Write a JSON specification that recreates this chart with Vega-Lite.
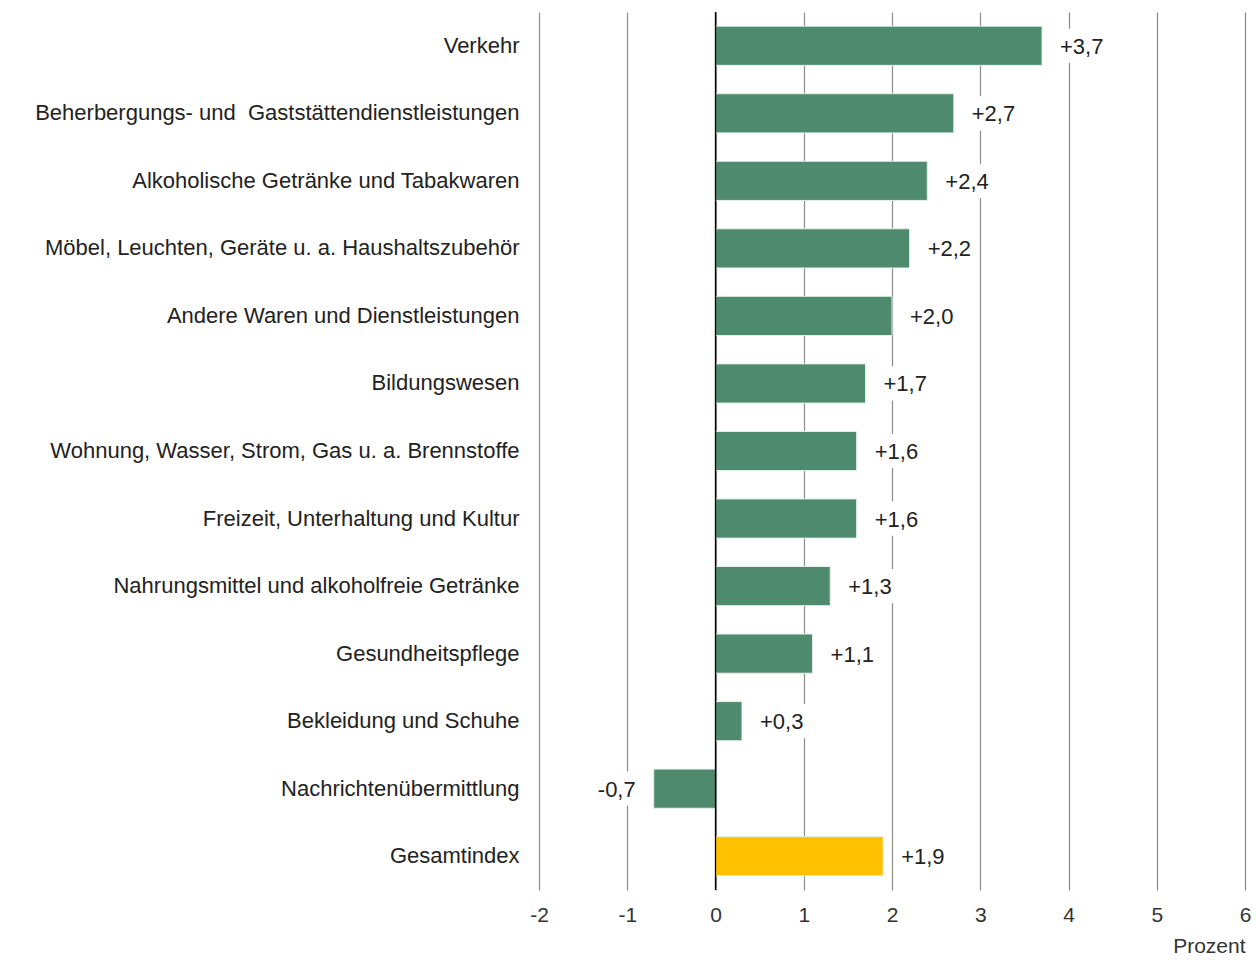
{
  "$schema": "https://vega.github.io/schema/vega-lite/v6.json",
  "autosize": "none",
  "width": 706,
  "height": 878,
  "padding": {"left": 539, "top": 12, "right": 11, "bottom": 71},
  "background": "white",
  "config": {
    "view": {"stroke": null},
    "font": "Liberation Sans",
    "axis": {"labelFont": "Liberation Sans", "titleFont": "Liberation Sans"},
    "text": {"font": "Liberation Sans"},
    "locale": {"number": {"decimal": ",", "thousands": ".", "grouping": [3], "currency": ["", " €"], "minus": "-"}}
  },
  "data": {
    "values": [
      {"kategorie": "Verkehr", "wert": 3.7, "gruppe": "Teil"},
      {"kategorie": "Beherbergungs- und\u00a0 Gaststättendienstleistungen", "wert": 2.7, "gruppe": "Teil"},
      {"kategorie": "Alkoholische Getränke und Tabakwaren", "wert": 2.4, "gruppe": "Teil"},
      {"kategorie": "Möbel, Leuchten, Geräte u. a. Haushaltszubehör", "wert": 2.2, "gruppe": "Teil"},
      {"kategorie": "Andere Waren und Dienstleistungen", "wert": 2.0, "gruppe": "Teil"},
      {"kategorie": "Bildungswesen", "wert": 1.7, "gruppe": "Teil"},
      {"kategorie": "Wohnung, Wasser, Strom, Gas u. a. Brennstoffe", "wert": 1.6, "gruppe": "Teil"},
      {"kategorie": "Freizeit, Unterhaltung und Kultur", "wert": 1.6, "gruppe": "Teil"},
      {"kategorie": "Nahrungsmittel und alkoholfreie Getränke", "wert": 1.3, "gruppe": "Teil"},
      {"kategorie": "Gesundheitspflege", "wert": 1.1, "gruppe": "Teil"},
      {"kategorie": "Bekleidung und Schuhe", "wert": 0.3, "gruppe": "Teil"},
      {"kategorie": "Nachrichtenübermittlung", "wert": -0.7, "gruppe": "Teil"},
      {"kategorie": "Gesamtindex", "wert": 1.9, "gruppe": "Gesamt"}
    ]
  },
  "encoding": {
    "y": {
      "field": "kategorie", "type": "nominal", "sort": null,
      "scale": {"paddingInner": 0.42, "paddingOuter": 0.21},
      "axis": {"title": null, "domain": false, "ticks": false, "labelPadding": 20, "labelFontSize": 22, "labelColor": "#222222", "labelLimit": 600}
    }
  },
  "layer": [
    {
      "mark": {"type": "bar", "stroke": "#e8efe9", "strokeWidth": 1},
      "encoding": {
        "x": {
          "field": "wert", "type": "quantitative",
          "scale": {"domain": [-2, 6], "nice": false, "zero": false},
          "axis": {
            "values": [-2, -1, 0, 1, 2, 3, 4, 5, 6],
            "format": "d",
            "domain": false, "ticks": false, "labelFlush": false,
            "grid": true, "gridColor": "#8c8c8c", "gridWidth": 1.2,
            "labelFontSize": 21, "labelColor": "#333333", "labelPadding": 14,
            "title": "Prozent", "titleFontSize": 21, "titleFontWeight": "normal", "titleColor": "#333333",
            "titleAnchor": "end", "titleAlign": "right", "titleX": 706, "titleY": 56, "titleBaseline": "middle"
          }
        },
        "color": {
          "field": "gruppe", "type": "nominal", "legend": null,
          "scale": {"domain": ["Teil", "Gesamt"], "range": ["#4e8a6e", "#ffc000"]}
        }
      }
    },
    {
      "data": {"values": [{"null": 0}]},
      "mark": {"type": "rule", "color": "#000000", "strokeWidth": 1.3},
      "encoding": {"x": {"field": "null", "type": "quantitative"}, "y": null}
    },
    {
      "transform": [{"filter": "datum.wert >= 0"}],
      "mark": {"type": "point", "shape": "M0.47,-0.57H2.23V0.57H0.47Z", "size": 3600, "filled": true, "fill": "white", "opacity": 1, "strokeWidth": 0},
      "encoding": {"x": {"field": "wert", "type": "quantitative"}}
    },
    {
      "transform": [{"filter": "datum.wert < 0"}],
      "mark": {"type": "point", "shape": "M-2.1,-0.57H-0.4V0.57H-2.1Z", "size": 3600, "filled": true, "fill": "white", "opacity": 1, "strokeWidth": 0},
      "encoding": {"x": {"field": "wert", "type": "quantitative"}}
    },
    {
      "transform": [{"filter": "datum.wert >= 0"}],
      "mark": {"type": "text", "align": "left", "dx": 18, "dy": 1, "fontSize": 22, "fill": "#222222"},
      "encoding": {"x": {"field": "wert", "type": "quantitative"}, "text": {"field": "wert", "type": "quantitative", "format": "+.1f"}}
    },
    {
      "transform": [{"filter": "datum.wert < 0"}],
      "mark": {"type": "text", "align": "right", "dx": -18, "dy": 1, "fontSize": 22, "fill": "#222222"},
      "encoding": {"x": {"field": "wert", "type": "quantitative"}, "text": {"field": "wert", "type": "quantitative", "format": "+.1f"}}
    }
  ]
}
